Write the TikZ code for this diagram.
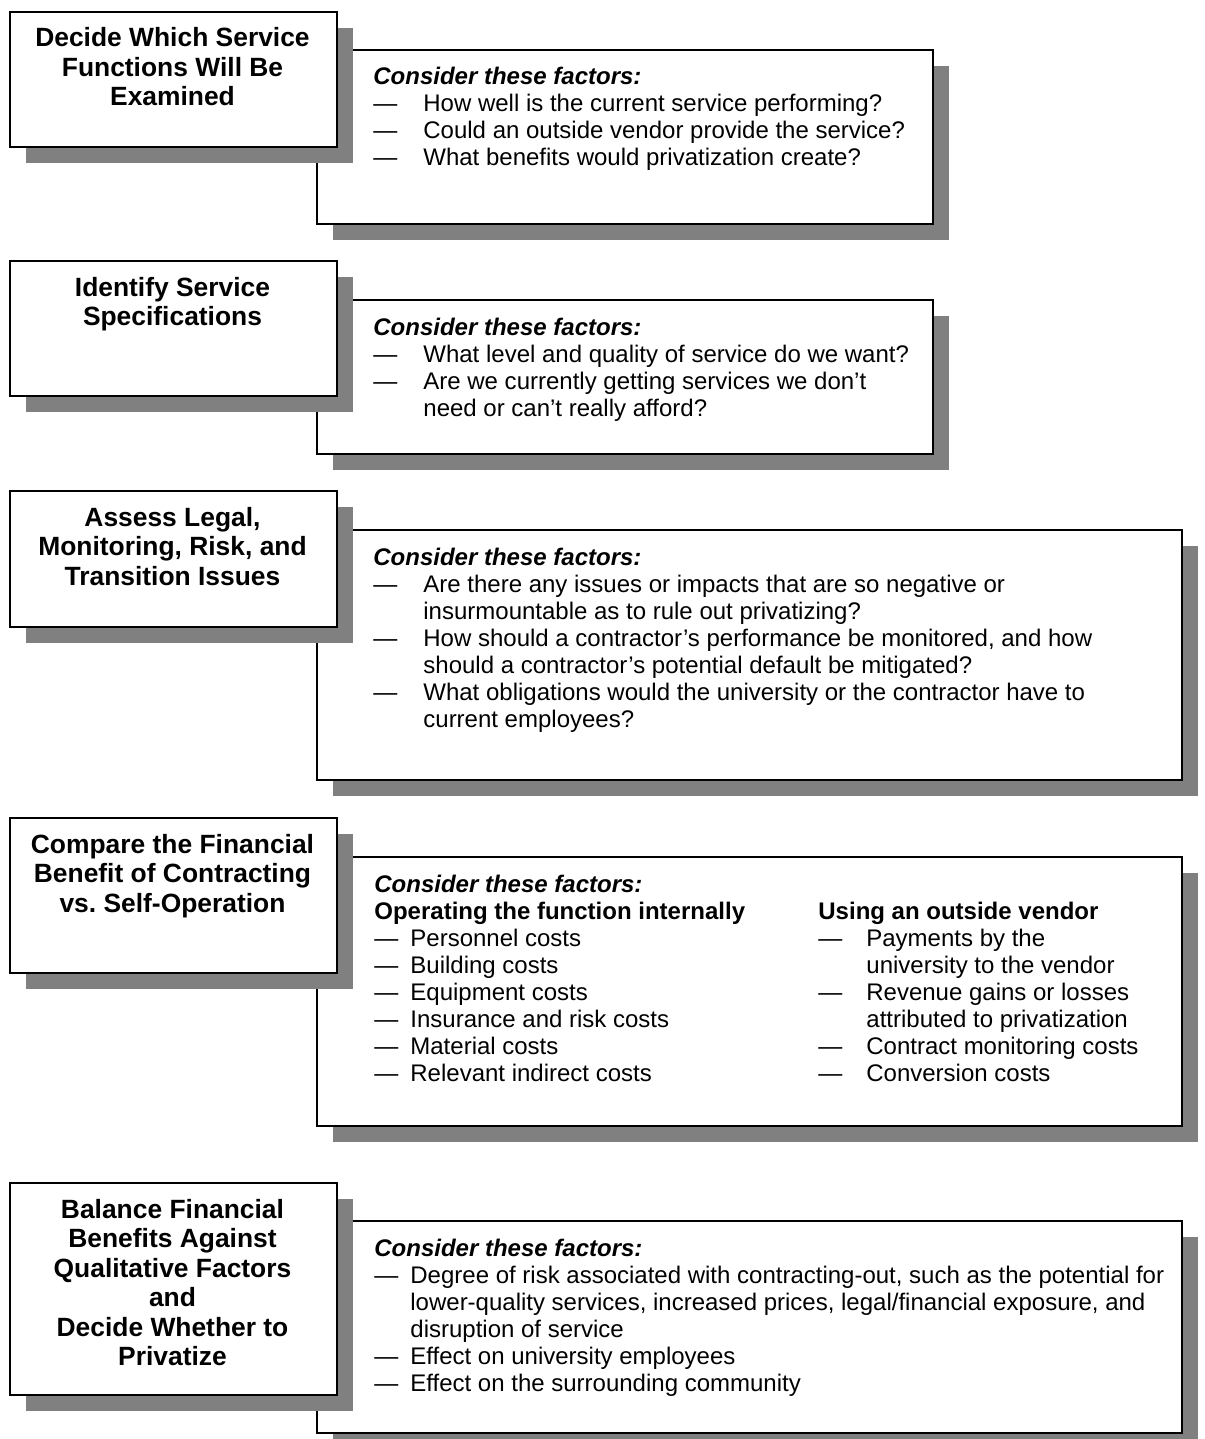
\documentclass[tikz,border=0pt]{standalone}
\usepackage{fontspec}
\setmainfont{Liberation Sans}
\usetikzlibrary{shadows}
\frenchspacing
\newcommand{\consider}{\textbf{\textit{Consider these factors:}}}
\begin{document}
\begin{tikzpicture}[x=0.5pt,y=-0.5pt,
shadowed/.style={draw=black, line width=1pt, fill=white, inner sep=0pt, anchor=north west,
  drop shadow={shadow xshift=8pt, shadow yshift=-8pt, fill=black!50, opacity=1}},
stepbox/.style={shadowed, minimum width=163.5pt},
factorbox/.style={shadowed},
steptext/.style={anchor=base, inner sep=0pt, font=\fontsize{13.2}{14.75}\selectfont\bfseries},
factortext/.style={anchor=base west, inner sep=0pt, font=\fontsize{12}{13.5}\selectfont}]
\useasboundingbox (0,0) rectangle (1204,1439);
% step 1
\node[factorbox, minimum width=308pt, minimum height=87pt] (fac1) at (316,49) {};
\node[stepbox, minimum height=67.5pt] (step1) at (9,11) {};
\node[steptext] (step1t) at (172.5,47) {\begin{tabular}[t]{@{}c@{}}Decide Which Service\\Functions Will Be\\Examined\end{tabular}};
\node[factortext] (fac1t) at (373,85) {\begin{tabular}[t]{@{}p{25pt}@{}l@{}}
\multicolumn{2}{@{}l@{}}{\consider}\\
— & How well is the current service performing?\\
— & Could an outside vendor provide the service?\\
— & What benefits would privatization create?
\end{tabular}};
% step 2
\node[factorbox, minimum width=308pt, minimum height=77pt] (fac2) at (316,299) {};
\node[stepbox, minimum height=67.5pt] (step2) at (9,260) {};
\node[steptext] (step2t) at (172.5,296) {\begin{tabular}[t]{@{}c@{}}Identify Service\\Specifications\end{tabular}};
\node[factortext] (fac2t) at (373,335) {\begin{tabular}[t]{@{}p{25pt}@{}l@{}}
\multicolumn{2}{@{}l@{}}{\consider}\\
— & What level and quality of service do we want?\\
— & Are we currently getting services we don’t\\
 & need or can’t really afford?
\end{tabular}};
% step 3
\node[factorbox, minimum width=432.5pt, minimum height=125pt] (fac3) at (316,529) {};
\node[stepbox, minimum height=68pt] (step3) at (9,490) {};
\node[steptext] (step3t) at (172.5,526) {\begin{tabular}[t]{@{}c@{}}Assess Legal,\\Monitoring, Risk, and\\Transition Issues\end{tabular}};
\node[factortext] (fac3t) at (373,565) {\begin{tabular}[t]{@{}p{25pt}@{}l@{}}
\multicolumn{2}{@{}l@{}}{\consider}\\
— & Are there any issues or impacts that are so negative or\\
 & insurmountable as to rule out privatizing?\\
— & How should a contractor’s performance be monitored, and how\\
 & should a contractor’s potential default be mitigated?\\
— & What obligations would the university or the contractor have to\\
 & current employees?
\end{tabular}};
% step 4
\node[factorbox, minimum width=432.5pt, minimum height=134.5pt] (fac4) at (316,856) {};
\node[stepbox, minimum height=77.5pt] (step4) at (9,817) {};
\node[steptext] (step4t) at (172.5,853) {\begin{tabular}[t]{@{}c@{}}Compare the Financial\\Benefit of Contracting\\vs. Self-Operation\end{tabular}};
\node[factortext] (fac4t) at (374,892) {\begin{tabular}[t]{@{}p{18pt}@{}p{204pt}@{}p{24pt}@{}l@{}}
\multicolumn{4}{@{}l@{}}{\consider}\\
\multicolumn{2}{@{}l@{}}{\textbf{Operating the function internally}} & \multicolumn{2}{@{}l@{}}{\textbf{Using an outside vendor}}\\
— & Personnel costs & — & Payments by the\\
— & Building costs & & university to the vendor\\
— & Equipment costs & — & Revenue gains or losses\\
— & Insurance and risk costs & & attributed to privatization\\
— & Material costs & — & Contract monitoring costs\\
— & Relevant indirect costs & — & Conversion costs
\end{tabular}};
% step 5
\node[factorbox, minimum width=432.5pt, minimum height=106pt] (fac5) at (316,1220) {};
\node[stepbox, minimum height=106pt] (step5) at (9,1182) {};
\node[steptext] (step5t) at (172.5,1218) {\begin{tabular}[t]{@{}c@{}}Balance Financial\\Benefits Against\\Qualitative Factors\\and\\Decide Whether to\\Privatize\end{tabular}};
\node[factortext] (fac5t) at (374,1256) {\begin{tabular}[t]{@{}p{18pt}@{}l@{}}
\multicolumn{2}{@{}l@{}}{\consider}\\
— & Degree of risk associated with contracting-out, such as the potential for\\
 & lower-quality services, increased prices, legal/financial exposure, and\\
 & disruption of service\\
— & Effect on university employees\\
— & Effect on the surrounding community
\end{tabular}};
\end{tikzpicture}
\end{document}
